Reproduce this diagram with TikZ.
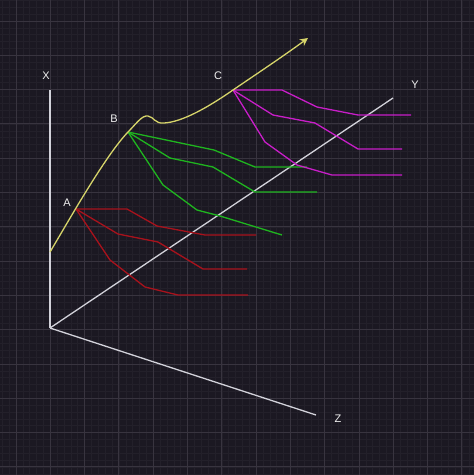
\documentclass[tikz,border=0pt]{standalone}
\usepackage{fontspec}
\setmainfont{Liberation Sans}
\usetikzlibrary{arrows.meta}
\definecolor{bg}{HTML}{1B1822}
\definecolor{gridmajor}{HTML}{38343F}
\definecolor{gridminor}{HTML}{23202A}
\definecolor{axiscol}{HTML}{D2D2DA}
\definecolor{curvecol}{HTML}{D6D46A}
\definecolor{redl}{HTML}{A8121C}
\definecolor{greenl}{HTML}{1FB51F}
\definecolor{magl}{HTML}{C81EC8}
\begin{document}
\begin{tikzpicture}[x=1pt,y=-1pt,
  lbl/.style={text=white!88!gray, font=\fontsize{11}{11}\selectfont, inner sep=0pt},
  axisline/.style={draw=axiscol, line width=1.3pt},
  redpath/.style={draw=redl, line width=1.3pt, line join=round},
  greenpath/.style={draw=greenl, line width=1.3pt, line join=round},
  magpath/.style={draw=magl, line width=1.3pt, line join=round},
  curvepath/.style={draw=curvecol, line width=1.3pt, -{Stealth[length=8pt,width=8pt]}},
  minorgrid/.style={draw=gridminor, line width=0.5pt},
  majorgrid/.style={draw=gridmajor, line width=0.9pt}]
\fill[bg] (0,0) rectangle (474,475);
\useasboundingbox (0,0) rectangle (474,475);
% grid
\foreach \k in {-2,...,66} {
  \draw[minorgrid] ({16+\k*6.86},0) -- ({16+\k*6.86},475);
}
\foreach \k in {-3,...,66} {
  \draw[minorgrid] (0,{21+\k*6.86}) -- (474,{21+\k*6.86});
}
\foreach \k in {0,...,13} {
  \draw[majorgrid] ({16+\k*34.3},0) -- ({16+\k*34.3},475);
  \draw[majorgrid] (0,{21+\k*34.3}) -- (474,{21+\k*34.3});
}
% axes
\coordinate (O) at (50,328);
\coordinate (xe) at (50,90);
\coordinate (ye) at (393,98);
\coordinate (ze) at (316,415);
\draw[axisline] (O) -- (xe);
\draw[axisline] (O) -- (ye);
\draw[axisline] (O) -- (ze);
\node[lbl] (X) at (46,76) {X};
\node[lbl] (Y) at (415,85) {Y};
\node[lbl] (Z) at (338,419) {Z};
% key points
\coordinate (pA) at (76,209);
\coordinate (pB) at (128,132);
\coordinate (pC) at (233,90);
\coordinate (s) at (50,252);
\coordinate (tip) at (308,38);
\node[lbl] (A) at (67,203) {A};
\node[lbl] (B) at (114,119) {B};
\node[lbl] (C) at (218,76) {C};
% red
\draw[redpath] (pA) -- (127,209) -- (157,226) -- (205,235) -- (256,235);
\draw[redpath] (pA) -- (118,234) -- (158,242) -- (203,269) -- (247,269);
\draw[redpath] (pA) -- (110,260) -- (145,287) -- (178,295) -- (248,295);
% green
\draw[greenpath] (pB) -- (214,150) -- (255,167) -- (307,167);
\draw[greenpath] (pB) -- (170,158) -- (213,167) -- (255,192) -- (317,192);
\draw[greenpath] (pB) -- (163,185) -- (197,210) -- (220,216) -- (282,235);
% magenta
\draw[magpath] (pC) -- (282,90) -- (317,107) -- (358,115) -- (411,115);
\draw[magpath] (pC) -- (273,115) -- (315,123) -- (358,149) -- (402,149);
\draw[magpath] (pC) -- (265,142) -- (297,165) -- (332,175) -- (402,175);
% yellow curve
\draw[curvepath] (s) .. controls (68,222) and (105,156) .. (pB)
  .. controls (136,124) and (142,115) .. (148,116)
  .. controls (154,117) and (155,124) .. (164,123)
  .. controls (182,122) and (207,108) .. (pC)
  .. controls (258,73) and (285,55) .. (tip);
\end{tikzpicture}
\end{document}
